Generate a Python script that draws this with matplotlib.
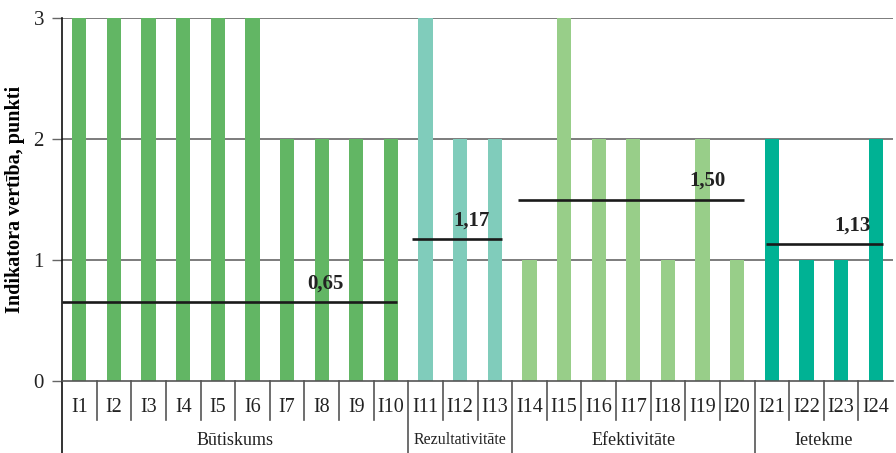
import matplotlib
matplotlib.use("Agg")
import matplotlib.pyplot as plt
import matplotlib.transforms as mtransforms

# Indicator scores
indicators = [f"I{i}" for i in range(1, 25)]
scores = [3, 3, 3, 3, 3, 3, 2, 2, 2, 2,
          3, 2, 2,
          1, 3, 2, 2, 1, 2, 1,
          2, 1, 1, 2]

# Groups: name, number of indicators, bar colour
group_names = ["Būtiskums", "Rezultativitāte", "Efektivitāte", "Ietekme"]
group_sizes = [10, 3, 7, 4]
group_colors = ["#62b664", "#80ccbb", "#98ce89", "#00b294"]
group_label_sizes = [13, 11.5, 13, 13]

# Group averages and the span of each average line (in bar index units)
avg_values = [0.65, 1.17, 1.50, 1.13]
avg_labels = ["0,65", "1,17", "1,50", "1,13"]
avg_spans = [(-0.5, 9.18), (9.62, 12.22), (12.68, 19.21), (19.82, 23.2)]
avg_label_x = [7.1, 11.34, 18.13, 22.33]

plt.rcParams["font.family"] = ["Liberation Serif", "DejaVu Serif"]

fig = plt.figure(figsize=(8.96, 4.53), dpi=100)
ax = fig.add_axes([62 / 896, 1 - 381 / 453, 831 / 896, 363 / 453])

colors = []
for c, n in zip(group_colors, group_sizes):
    colors += [c] * n

x = list(range(len(indicators)))
ax.bar(x, scores, width=0.41, color=colors, zorder=2)

ax.set_xlim(-0.5, len(indicators) - 0.5)
ax.set_ylim(0, 3)
ax.set_yticks([0, 1, 2, 3])
ax.set_yticklabels(["0", "1", "2", "3"], fontsize=15, color="#222222")
ax.tick_params(axis="y", length=7, width=1, color="#666666", pad=6)
ax.set_xticks([])
for yv in [1, 2, 3]:
    ax.axhline(yv, color="#666666", lw=1.2, zorder=1)

for s in ["top", "right"]:
    ax.spines[s].set_visible(False)
ax.spines["left"].set_color("#111111")
ax.spines["left"].set_linewidth(1.2)
ax.spines["bottom"].set_color("#555555")
ax.spines["bottom"].set_linewidth(1.2)

ax.set_ylabel("Indikatora vertība, punkti", fontsize=14.5, fontweight="bold",
              labelpad=6)

# Average lines with value labels
for v, lab, (x0, x1), lx in zip(avg_values, avg_labels, avg_spans, avg_label_x):
    ax.plot([x0, x1], [v, v], color="#1a1a1a", lw=1.9, zorder=3,
            solid_capstyle="butt")
    ax.annotate(lab, xy=(lx, v), xytext=(0, 13.5), textcoords="offset points",
                ha="center", va="center", fontsize=15, fontweight="bold",
                color="#222222", zorder=4)

# Category axis below the plot
trans = mtransforms.blended_transform_factory(ax.transData, ax.transAxes)
sep_color = "#555555"
for i, name in enumerate(indicators):
    ax.text(i, -0.072, name, transform=trans, ha="center", va="center",
            fontsize=14.5, color="#222222")

boundaries = []
pos = 0
for n in group_sizes:
    pos += n
    boundaries.append(pos - 0.5)

for i in range(1, len(indicators)):
    b = i - 0.5
    bottom = -0.2 if b in boundaries else -0.107
    ax.plot([b, b], [0, bottom], transform=trans, color=sep_color, lw=1.2,
            clip_on=False)
ax.plot([-0.5, -0.5], [0, -0.2], transform=trans, color="#111111", lw=1.2,
        clip_on=False)

start = -0.5
for name, n, fs in zip(group_names, group_sizes, group_label_sizes):
    ax.text(start + n / 2, -0.163, name, transform=trans, ha="center",
            va="center", fontsize=fs, color="#222222")
    start += n

fig.savefig("out.png", dpi=100)
